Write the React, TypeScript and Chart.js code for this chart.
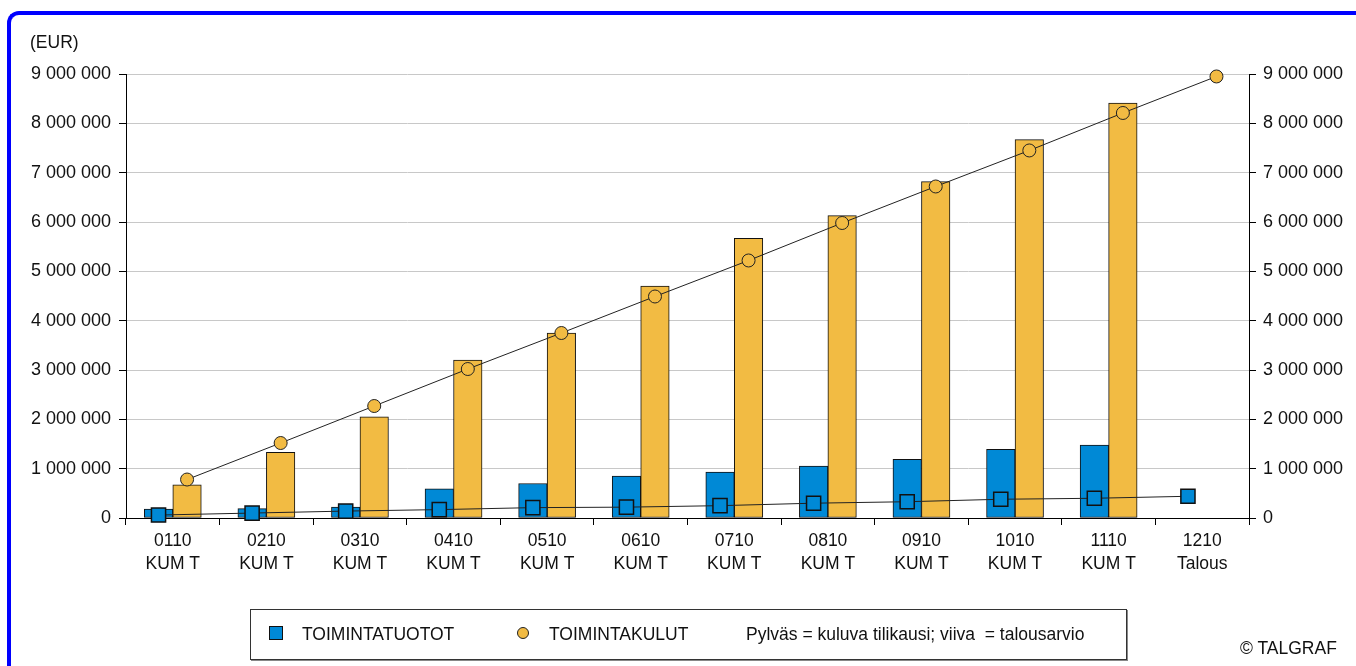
import React, { useEffect, useRef } from "react";
import { Chart, registerables } from "chart.js";

Chart.register(...registerables);

const categories: string[][] = [
  ["0110", "KUM T"], ["0210", "KUM T"], ["0310", "KUM T"], ["0410", "KUM T"],
  ["0510", "KUM T"], ["0610", "KUM T"], ["0710", "KUM T"], ["0810", "KUM T"],
  ["0910", "KUM T"], ["1010", "KUM T"], ["1110", "KUM T"], ["1210", "Talous"],
];
// Pylväs = kuluva tilikausi (bars)
const tuototActual: (number | null)[] = [180000, 190000, 220000, 590000, 700000, 850000, 930000, 1050000, 1190000, 1390000, 1480000, null];
const kulutActual: (number | null)[] = [670000, 1330000, 2050000, 3200000, 3750000, 4700000, 5670000, 6130000, 6820000, 7670000, 8410000, null];
// viiva = talousarvio (lines)
const tuototBudget: number[] = [60000, 100000, 140000, 170000, 210000, 220000, 250000, 300000, 330000, 380000, 400000, 440000];
const kulutBudget: number[] = [780000, 1520000, 2270000, 3020000, 3750000, 4490000, 5220000, 5980000, 6720000, 7450000, 8210000, 8950000];

const seriesNames = ["TOIMINTATUOTOT", "TOIMINTAKULUT"];
const noteText = "Pylväs = kuluva tilikausi; viiva  = talousarvio";
const unitText = "(EUR)";
const creditText = "© TALGRAF";

const BLUE = "#0089d6";
const ORANGE = "#f2bb43";
const FONT = "'Liberation Sans', Arial, sans-serif";
const BAR_SHIFT = 0.1525;

const fmt = (v: number) => String(v).replace(/\B(?=(\d{3})+(?!\d))/g, " ");

export default function App() {
  const ref = useRef<HTMLCanvasElement | null>(null);

  useEffect(() => {
    if (!ref.current) return;
    const chart = new Chart(ref.current, {
      type: "bar",
      data: {
        labels: categories,
        datasets: [
          {
            type: "line",
            label: seriesNames[0] + " talousarvio",
            data: tuototBudget.map((v, i) => ({ x: i - BAR_SHIFT, y: v })),
            xAxisID: "xl",
            yAxisID: "y",
            borderColor: "#222",
            borderWidth: 1,
            pointStyle: "rect",
            pointRadius: 10,
            pointBackgroundColor: BLUE,
            pointBorderColor: "#111",
            pointBorderWidth: 1.5,
            clip: false,
            order: 0,
          } as any,
          {
            type: "line",
            label: seriesNames[1] + " talousarvio",
            data: kulutBudget.map((v, i) => ({ x: i + BAR_SHIFT, y: v })),
            xAxisID: "xl",
            yAxisID: "y",
            borderColor: "#222",
            borderWidth: 1,
            pointStyle: "circle",
            pointRadius: 6.5,
            pointBackgroundColor: ORANGE,
            pointBorderColor: "#222",
            pointBorderWidth: 1,
            clip: false,
            order: 0,
          } as any,
          {
            type: "bar",
            label: seriesNames[0],
            data: tuototActual,
            xAxisID: "x",
            yAxisID: "y",
            backgroundColor: BLUE,
            borderColor: "#111",
            borderWidth: 1,
            borderSkipped: false,
            barThickness: 28.5,
            order: 1,
          } as any,
          {
            type: "bar",
            label: seriesNames[1],
            data: kulutActual,
            xAxisID: "x",
            yAxisID: "y",
            backgroundColor: ORANGE,
            borderColor: "#111",
            borderWidth: 1,
            borderSkipped: false,
            barThickness: 28.5,
            order: 1,
          } as any,
        ],
      },
      options: {
        animation: false,
        responsive: false,
        devicePixelRatio: 1,
        layout: { padding: { left: 0, right: 0, top: 74, bottom: 88 } },
        plugins: { legend: { display: false }, tooltip: { enabled: false } },
        scales: {
          x: {
            type: "category",
            position: "bottom",
            offset: true,
            grid: { drawOnChartArea: false, offset: true, tickLength: 7, color: "#000", tickColor: "#000" },
            border: { color: "#000", width: 1 },
            ticks: { color: "#111", font: { family: FONT, size: 17.5, lineHeight: 1.3 }, padding: 5, maxRotation: 0, autoSkip: false },
            afterFit: (s: any) => { s.height = 60; },
          },
          xl: {
            type: "linear",
            axis: "x",
            display: false,
            min: -0.5,
            max: 11.5,
            offset: false,
          },
          y: {
            type: "linear",
            position: "left",
            min: 0,
            max: 9000000,
            grid: { color: "#c8c8c8", tickColor: "#000", tickLength: 7, lineWidth: 1 },
            border: { color: "#000", width: 1 },
            ticks: { stepSize: 1000000, color: "#111", font: { family: FONT, size: 18 }, padding: 8, callback: (v: any) => fmt(Number(v)) },
            afterFit: (s: any) => { s.width = 126; },
          },
          y2: {
            type: "linear",
            position: "right",
            min: 0,
            max: 9000000,
            grid: { drawOnChartArea: false, tickColor: "#000", tickLength: 7 },
            border: { color: "#000", width: 1 },
            ticks: { stepSize: 1000000, color: "#111", font: { family: FONT, size: 18 }, padding: 7, callback: (v: any) => fmt(Number(v)) },
            afterFit: (s: any) => { s.width = 107; },
          },
        },
      } as any,
    });
    return () => chart.destroy();
  }, []);

  const txt: React.CSSProperties = {
    position: "absolute",
    fontFamily: FONT,
    fontSize: "17.5px",
    lineHeight: "20px",
    color: "#111",
    whiteSpace: "pre",
  };

  return (
    <div style={{ position: "fixed", left: 0, top: 0, width: 1356, height: 666, overflow: "hidden", background: "#fff" }}>
      <div
        style={{
          position: "absolute",
          left: 7,
          top: 11,
          width: 1400,
          height: 700,
          borderTop: "4px solid #0000ff",
          borderLeft: "4.5px solid #0000ff",
          borderTopLeftRadius: 12,
          boxSizing: "border-box",
        }}
      />
      <canvas ref={ref} width={1356} height={666} style={{ position: "absolute", left: 0, top: 0, width: 1356, height: 666 }} />
      <div style={{ ...txt, left: 30, top: 32 }}>{unitText}</div>
      <div
        style={{
          position: "absolute",
          left: 250,
          top: 609,
          width: 877,
          height: 51,
          border: "1px solid #333",
          boxShadow: "1px 1px 0 #888",
          boxSizing: "border-box",
          background: "#fff",
        }}
      />
      <div style={{ position: "absolute", left: 269, top: 626, width: 14, height: 14, background: BLUE, border: "1px solid #111", boxSizing: "border-box" }} />
      <div style={{ ...txt, left: 302, top: 624 }}>{seriesNames[0]}</div>
      <div style={{ position: "absolute", left: 517, top: 627, width: 12, height: 12, borderRadius: "50%", background: ORANGE, border: "1px solid #222", boxSizing: "border-box" }} />
      <div style={{ ...txt, left: 549, top: 624 }}>{seriesNames[1]}</div>
      <div style={{ ...txt, left: 746, top: 624 }}>{noteText}</div>
      <div style={{ ...txt, left: 1240, top: 638 }}>{creditText}</div>
    </div>
  );
}
